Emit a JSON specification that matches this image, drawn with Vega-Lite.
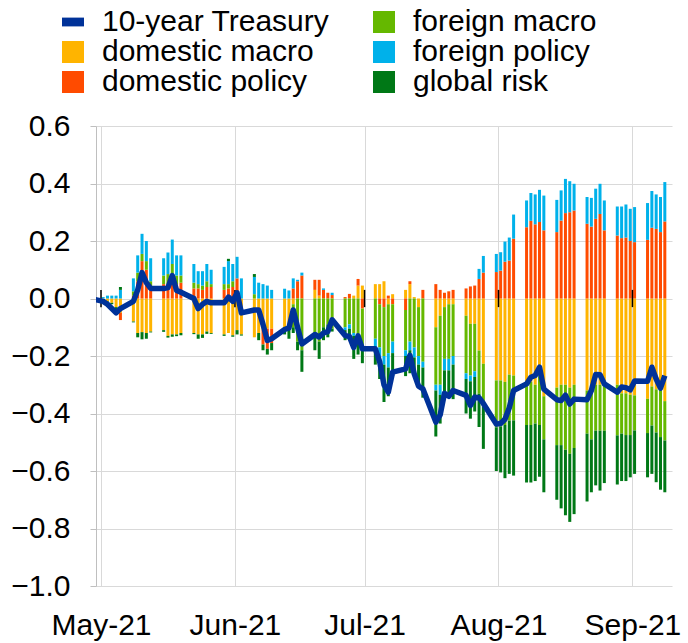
{
  "$schema": "https://vega.github.io/schema/vega-lite/v6.json",
  "width": 576,
  "height": 460,
  "autosize": {"type": "none"},
  "padding": {"left": 96, "top": 126, "right": 16, "bottom": 57},
  "background": "white",
  "config": {
    "font": "Liberation Sans",
    "view": {"stroke": null}
  },
  "datasets": {
    "months": [
      {"month": "2021-05-01"}, {"month": "2021-06-01"}, {"month": "2021-07-01"}, {"month": "2021-08-01"}, {"month": "2021-09-01"}
    ],
    "yields": [
      {"date": "2021-04-30", "domestic macro": 0, "domestic policy": 0, "foreign macro": 0, "foreign policy": 0, "global risk": 0, "10-year Treasury": 0},
      {"date": "2021-05-03", "domestic macro": -0.01, "domestic policy": 0, "foreign macro": 0, "foreign policy": 0.005, "global risk": 0, "10-year Treasury": -0.01},
      {"date": "2021-05-04", "domestic macro": -0.01, "domestic policy": 0, "foreign macro": 0, "foreign policy": 0.01, "global risk": -0.005, "10-year Treasury": -0.02},
      {"date": "2021-05-05", "domestic macro": -0.015, "domestic policy": 0, "foreign macro": 0, "foreign policy": 0.01, "global risk": -0.005, "10-year Treasury": -0.035},
      {"date": "2021-05-06", "domestic macro": -0.03, "domestic policy": 0, "foreign macro": 0, "foreign policy": 0.01, "global risk": -0.008, "10-year Treasury": -0.05},
      {"date": "2021-05-07", "domestic macro": -0.05, "domestic policy": -0.025, "foreign macro": 0, "foreign policy": 0.03, "global risk": 0.01, "10-year Treasury": -0.035},
      {"date": "2021-05-10", "domestic macro": -0.08, "domestic policy": 0.01, "foreign macro": 0.015, "foreign policy": 0.045, "global risk": -0.003, "10-year Treasury": -0.01},
      {"date": "2021-05-11", "domestic macro": -0.12, "domestic policy": 0.06, "foreign macro": 0.03, "foreign policy": 0.06, "global risk": -0.015, "10-year Treasury": 0.03},
      {"date": "2021-05-12", "domestic macro": -0.117, "domestic policy": 0.13, "foreign macro": 0.025, "foreign policy": 0.07, "global risk": -0.025, "10-year Treasury": 0.09},
      {"date": "2021-05-13", "domestic macro": -0.12, "domestic policy": 0.1, "foreign macro": 0.03, "foreign policy": 0.07, "global risk": -0.02, "10-year Treasury": 0.055},
      {"date": "2021-05-14", "domestic macro": -0.115, "domestic policy": 0.04, "foreign macro": 0.02, "foreign policy": 0.08, "global risk": -0.003, "10-year Treasury": 0.035},
      {"date": "2021-05-17", "domestic macro": -0.11, "domestic policy": 0.05, "foreign macro": 0.03, "foreign policy": 0.06, "global risk": -0.006, "10-year Treasury": 0.035},
      {"date": "2021-05-18", "domestic macro": -0.13, "domestic policy": 0.05, "foreign macro": 0.035, "foreign policy": 0.075, "global risk": -0.006, "10-year Treasury": 0.038},
      {"date": "2021-05-19", "domestic macro": -0.125, "domestic policy": 0.08, "foreign macro": 0.04, "foreign policy": 0.085, "global risk": -0.008, "10-year Treasury": 0.08},
      {"date": "2021-05-20", "domestic macro": -0.125, "domestic policy": 0.05, "foreign macro": 0.03, "foreign policy": 0.07, "global risk": -0.006, "10-year Treasury": 0.028},
      {"date": "2021-05-21", "domestic macro": -0.12, "domestic policy": 0.055, "foreign macro": 0.025, "foreign policy": 0.07, "global risk": -0.008, "10-year Treasury": 0.022},
      {"date": "2021-05-24", "domestic macro": -0.12, "domestic policy": 0.035, "foreign macro": 0.02, "foreign policy": 0.065, "global risk": -0.004, "10-year Treasury": 0.0},
      {"date": "2021-05-25", "domestic macro": -0.125, "domestic policy": 0.035, "foreign macro": 0.015, "foreign policy": 0.045, "global risk": -0.015, "10-year Treasury": -0.035},
      {"date": "2021-05-26", "domestic macro": -0.125, "domestic policy": 0.03, "foreign macro": 0.015, "foreign policy": 0.05, "global risk": -0.012, "10-year Treasury": -0.02},
      {"date": "2021-05-27", "domestic macro": -0.115, "domestic policy": 0.04, "foreign macro": 0.02, "foreign policy": 0.06, "global risk": -0.008, "10-year Treasury": -0.01},
      {"date": "2021-05-28", "domestic macro": -0.12, "domestic policy": 0.04, "foreign macro": 0.01, "foreign policy": 0.05, "global risk": -0.003, "10-year Treasury": -0.015},
      {"date": "2021-05-31", "domestic macro": -0.125, "domestic policy": 0.03, "foreign macro": 0.02, "foreign policy": 0.06, "global risk": -0.005, "10-year Treasury": -0.015},
      {"date": "2021-06-01", "domestic macro": -0.12, "domestic policy": 0.035, "foreign macro": 0.015, "foreign policy": 0.08, "global risk": 0.008, "10-year Treasury": 0.005},
      {"date": "2021-06-02", "domestic macro": -0.128, "domestic policy": 0.04, "foreign macro": 0.02, "foreign policy": 0.06, "global risk": -0.005, "10-year Treasury": -0.01},
      {"date": "2021-06-03", "domestic macro": -0.11, "domestic policy": 0.07, "foreign macro": 0, "foreign policy": 0.075, "global risk": -0.015, "10-year Treasury": 0.02},
      {"date": "2021-06-04", "domestic macro": -0.125, "domestic policy": 0, "foreign macro": 0, "foreign policy": 0.07, "global risk": -0.004, "10-year Treasury": -0.05},
      {"date": "2021-06-07", "domestic macro": -0.135, "domestic policy": 0, "foreign macro": 0.015, "foreign policy": 0.06, "global risk": 0.01, "10-year Treasury": -0.04},
      {"date": "2021-06-08", "domestic macro": -0.12, "domestic policy": 0, "foreign macro": 0, "foreign policy": 0.055, "global risk": -0.025, "10-year Treasury": -0.04},
      {"date": "2021-06-09", "domestic macro": -0.11, "domestic policy": -0.05, "foreign macro": 0, "foreign policy": 0.05, "global risk": -0.02, "10-year Treasury": -0.09},
      {"date": "2021-06-10", "domestic macro": -0.105, "domestic policy": -0.07, "foreign macro": 0, "foreign policy": 0.045, "global risk": -0.02, "10-year Treasury": -0.146},
      {"date": "2021-06-11", "domestic macro": -0.105, "domestic policy": -0.05, "foreign macro": 0, "foreign policy": 0.03, "global risk": -0.025, "10-year Treasury": -0.14},
      {"date": "2021-06-14", "domestic macro": -0.1, "domestic policy": 0, "foreign macro": 0, "foreign policy": 0.034, "global risk": -0.025, "10-year Treasury": -0.108},
      {"date": "2021-06-15", "domestic macro": -0.09, "domestic policy": 0, "foreign macro": -0.015, "foreign policy": 0.028, "global risk": -0.035, "10-year Treasury": -0.102},
      {"date": "2021-06-16", "domestic macro": -0.02, "domestic policy": 0.035, "foreign macro": -0.08, "foreign policy": 0.035, "global risk": -0.02, "10-year Treasury": -0.04},
      {"date": "2021-06-17", "domestic macro": 0, "domestic policy": 0.06, "foreign macro": -0.15, "foreign policy": 0.005, "global risk": -0.03, "10-year Treasury": -0.1},
      {"date": "2021-06-18", "domestic macro": 0, "domestic policy": 0.08, "foreign macro": -0.18, "foreign policy": 0.01, "global risk": -0.075, "10-year Treasury": -0.158},
      {"date": "2021-06-21", "domestic macro": 0.03, "domestic policy": 0.035, "foreign macro": -0.12, "foreign policy": 0, "global risk": -0.06, "10-year Treasury": -0.125},
      {"date": "2021-06-22", "domestic macro": 0.01, "domestic policy": 0.055, "foreign macro": -0.15, "foreign policy": 0, "global risk": -0.06, "10-year Treasury": -0.134},
      {"date": "2021-06-23", "domestic macro": 0, "domestic policy": 0.03, "foreign macro": -0.1, "foreign policy": 0.005, "global risk": -0.045, "10-year Treasury": -0.12},
      {"date": "2021-06-24", "domestic macro": 0, "domestic policy": 0.02, "foreign macro": -0.09, "foreign policy": 0, "global risk": -0.045, "10-year Treasury": -0.115},
      {"date": "2021-06-25", "domestic macro": 0, "domestic policy": 0.012, "foreign macro": -0.105, "foreign policy": 0.008, "global risk": -0.01, "10-year Treasury": -0.074},
      {"date": "2021-06-28", "domestic macro": 0, "domestic policy": 0.005, "foreign macro": -0.1, "foreign policy": -0.01, "global risk": -0.035, "10-year Treasury": -0.129},
      {"date": "2021-06-29", "domestic macro": 0, "domestic policy": 0.016, "foreign macro": -0.09, "foreign policy": -0.015, "global risk": -0.04, "10-year Treasury": -0.132},
      {"date": "2021-06-30", "domestic macro": 0.01, "domestic policy": 0, "foreign macro": -0.12, "foreign policy": -0.01, "global risk": -0.08, "10-year Treasury": -0.17},
      {"date": "2021-07-01", "domestic macro": 0.045, "domestic policy": 0.023, "foreign macro": -0.15, "foreign policy": 0, "global risk": -0.045, "10-year Treasury": -0.13},
      {"date": "2021-07-02", "domestic macro": 0.045, "domestic policy": -0.035, "foreign macro": -0.13, "foreign policy": 0, "global risk": -0.06, "10-year Treasury": -0.175},
      {"date": "2021-07-05", "domestic macro": 0.05, "domestic policy": 0, "foreign macro": -0.14, "foreign policy": -0.03, "global risk": -0.06, "10-year Treasury": -0.175},
      {"date": "2021-07-06", "domestic macro": 0.05, "domestic policy": -0.02, "foreign macro": -0.15, "foreign policy": -0.04, "global risk": -0.07, "10-year Treasury": -0.22},
      {"date": "2021-07-07", "domestic macro": 0.06, "domestic policy": -0.03, "foreign macro": -0.17, "foreign policy": -0.03, "global risk": -0.13, "10-year Treasury": -0.3},
      {"date": "2021-07-08", "domestic macro": -0.02, "domestic policy": 0.01, "foreign macro": -0.17, "foreign policy": -0.05, "global risk": -0.1, "10-year Treasury": -0.326},
      {"date": "2021-07-09", "domestic macro": 0.015, "domestic policy": -0.02, "foreign macro": -0.13, "foreign policy": -0.04, "global risk": -0.08, "10-year Treasury": -0.256},
      {"date": "2021-07-12", "domestic macro": 0.03, "domestic policy": -0.04, "foreign macro": -0.14, "foreign policy": -0.02, "global risk": -0.07, "10-year Treasury": -0.245},
      {"date": "2021-07-13", "domestic macro": 0.05, "domestic policy": 0.01, "foreign macro": -0.15, "foreign policy": -0.03, "global risk": -0.08, "10-year Treasury": -0.198},
      {"date": "2021-07-14", "domestic macro": 0.005, "domestic policy": 0, "foreign macro": -0.17, "foreign policy": -0.035, "global risk": -0.06, "10-year Treasury": -0.262},
      {"date": "2021-07-15", "domestic macro": -0.03, "domestic policy": 0, "foreign macro": -0.17, "foreign policy": -0.03, "global risk": -0.07, "10-year Treasury": -0.305},
      {"date": "2021-07-16", "domestic macro": 0, "domestic policy": 0.03, "foreign macro": -0.22, "foreign policy": -0.02, "global risk": -0.105, "10-year Treasury": -0.314},
      {"date": "2021-07-19", "domestic macro": -0.1, "domestic policy": 0.05, "foreign macro": -0.2, "foreign policy": -0.02, "global risk": -0.16, "10-year Treasury": -0.43},
      {"date": "2021-07-20", "domestic macro": -0.06, "domestic policy": 0.03, "foreign macro": -0.24, "foreign policy": -0.035, "global risk": -0.1, "10-year Treasury": -0.405},
      {"date": "2021-07-21", "domestic macro": -0.03, "domestic policy": 0.02, "foreign macro": -0.18, "foreign policy": -0.04, "global risk": -0.1, "10-year Treasury": -0.33},
      {"date": "2021-07-22", "domestic macro": -0.02, "domestic policy": 0.025, "foreign macro": -0.19, "foreign policy": -0.04, "global risk": -0.09, "10-year Treasury": -0.34},
      {"date": "2021-07-23", "domestic macro": -0.02, "domestic policy": 0.03, "foreign macro": -0.18, "foreign policy": -0.03, "global risk": -0.12, "10-year Treasury": -0.32},
      {"date": "2021-07-26", "domestic macro": -0.06, "domestic policy": 0.035, "foreign macro": -0.2, "foreign policy": -0.02, "global risk": -0.12, "10-year Treasury": -0.337},
      {"date": "2021-07-27", "domestic macro": -0.088, "domestic policy": 0.042, "foreign macro": -0.18, "foreign policy": -0.02, "global risk": -0.13, "10-year Treasury": -0.372},
      {"date": "2021-07-28", "domestic macro": -0.088, "domestic policy": 0.045, "foreign macro": -0.165, "foreign policy": -0.02, "global risk": -0.12, "10-year Treasury": -0.343},
      {"date": "2021-07-29", "domestic macro": -0.181, "domestic policy": 0.068, "foreign macro": -0.15, "foreign policy": 0.035, "global risk": -0.116, "10-year Treasury": -0.345},
      {"date": "2021-07-30", "domestic macro": -0.227, "domestic policy": 0.09, "foreign macro": -0.15, "foreign policy": 0.058, "global risk": -0.146, "10-year Treasury": -0.365},
      {"date": "2021-08-02", "domestic macro": -0.285, "domestic policy": 0.092, "foreign macro": -0.163, "foreign policy": 0.063, "global risk": -0.152, "10-year Treasury": -0.437},
      {"date": "2021-08-03", "domestic macro": -0.285, "domestic policy": 0.097, "foreign macro": -0.16, "foreign policy": 0.064, "global risk": -0.16, "10-year Treasury": -0.435},
      {"date": "2021-08-04", "domestic macro": -0.29, "domestic policy": 0.128, "foreign macro": -0.15, "foreign policy": 0.07, "global risk": -0.185, "10-year Treasury": -0.42},
      {"date": "2021-08-05", "domestic macro": -0.265, "domestic policy": 0.132, "foreign macro": -0.16, "foreign policy": 0.08, "global risk": -0.185, "10-year Treasury": -0.38},
      {"date": "2021-08-06", "domestic macro": -0.268, "domestic policy": 0.208, "foreign macro": -0.156, "foreign policy": 0.084, "global risk": -0.192, "10-year Treasury": -0.32},
      {"date": "2021-08-09", "domestic macro": -0.29, "domestic policy": 0.248, "foreign macro": -0.15, "foreign policy": 0.093, "global risk": -0.2, "10-year Treasury": -0.297},
      {"date": "2021-08-10", "domestic macro": -0.29, "domestic policy": 0.27, "foreign macro": -0.15, "foreign policy": 0.097, "global risk": -0.2, "10-year Treasury": -0.274},
      {"date": "2021-08-11", "domestic macro": -0.3, "domestic policy": 0.258, "foreign macro": -0.135, "foreign policy": 0.104, "global risk": -0.2, "10-year Treasury": -0.268},
      {"date": "2021-08-12", "domestic macro": -0.27, "domestic policy": 0.266, "foreign macro": -0.17, "foreign policy": 0.112, "global risk": -0.18, "10-year Treasury": -0.239},
      {"date": "2021-08-13", "domestic macro": -0.34, "domestic policy": 0.237, "foreign macro": -0.15, "foreign policy": 0.121, "global risk": -0.184, "10-year Treasury": -0.315},
      {"date": "2021-08-16", "domestic macro": -0.31, "domestic policy": 0.231, "foreign macro": -0.2, "foreign policy": 0.112, "global risk": -0.19, "10-year Treasury": -0.352},
      {"date": "2021-08-17", "domestic macro": -0.3, "domestic policy": 0.271, "foreign macro": -0.21, "foreign policy": 0.105, "global risk": -0.22, "10-year Treasury": -0.355},
      {"date": "2021-08-18", "domestic macro": -0.3, "domestic policy": 0.297, "foreign macro": -0.226, "foreign policy": 0.119, "global risk": -0.228, "10-year Treasury": -0.336},
      {"date": "2021-08-19", "domestic macro": -0.31, "domestic policy": 0.3, "foreign macro": -0.23, "foreign policy": 0.108, "global risk": -0.237, "10-year Treasury": -0.367},
      {"date": "2021-08-20", "domestic macro": -0.3, "domestic policy": 0.306, "foreign macro": -0.22, "foreign policy": 0.093, "global risk": -0.23, "10-year Treasury": -0.35},
      {"date": "2021-08-23", "domestic macro": -0.32, "domestic policy": 0.26, "foreign macro": -0.15, "foreign policy": 0.093, "global risk": -0.236, "10-year Treasury": -0.352},
      {"date": "2021-08-24", "domestic macro": -0.3, "domestic policy": 0.25, "foreign macro": -0.19, "foreign policy": 0.1, "global risk": -0.184, "10-year Treasury": -0.32},
      {"date": "2021-08-25", "domestic macro": -0.3, "domestic policy": 0.277, "foreign macro": -0.16, "foreign policy": 0.105, "global risk": -0.19, "10-year Treasury": -0.264},
      {"date": "2021-08-26", "domestic macro": -0.3, "domestic policy": 0.294, "foreign macro": -0.16, "foreign policy": 0.105, "global risk": -0.208, "10-year Treasury": -0.265},
      {"date": "2021-08-27", "domestic macro": -0.3, "domestic policy": 0.237, "foreign macro": -0.16, "foreign policy": 0.104, "global risk": -0.182, "10-year Treasury": -0.297},
      {"date": "2021-08-30", "domestic macro": -0.3, "domestic policy": 0.219, "foreign macro": -0.176, "foreign policy": 0.101, "global risk": -0.171, "10-year Treasury": -0.326},
      {"date": "2021-08-31", "domestic macro": -0.33, "domestic policy": 0.21, "foreign macro": -0.14, "foreign policy": 0.11, "global risk": -0.165, "10-year Treasury": -0.308},
      {"date": "2021-09-01", "domestic macro": -0.33, "domestic policy": 0.212, "foreign macro": -0.145, "foreign policy": 0.115, "global risk": -0.16, "10-year Treasury": -0.31},
      {"date": "2021-09-02", "domestic macro": -0.335, "domestic policy": 0.2, "foreign macro": -0.14, "foreign policy": 0.112, "global risk": -0.147, "10-year Treasury": -0.318},
      {"date": "2021-09-03", "domestic macro": -0.337, "domestic policy": 0.196, "foreign macro": -0.122, "foreign policy": 0.122, "global risk": -0.151, "10-year Treasury": -0.287},
      {"date": "2021-09-06", "domestic macro": -0.349, "domestic policy": 0.204, "foreign macro": -0.119, "foreign policy": 0.128, "global risk": -0.154, "10-year Treasury": -0.288},
      {"date": "2021-09-07", "domestic macro": -0.306, "domestic policy": 0.246, "foreign macro": -0.136, "foreign policy": 0.128, "global risk": -0.168, "10-year Treasury": -0.239},
      {"date": "2021-09-08", "domestic macro": -0.316, "domestic policy": 0.242, "foreign macro": -0.15, "foreign policy": 0.12, "global risk": -0.173, "10-year Treasury": -0.28},
      {"date": "2021-09-09", "domestic macro": -0.31, "domestic policy": 0.231, "foreign macro": -0.172, "foreign policy": 0.122, "global risk": -0.183, "10-year Treasury": -0.312},
      {"date": "2021-09-10", "domestic macro": -0.357, "domestic policy": 0.268, "foreign macro": -0.137, "foreign policy": 0.137, "global risk": -0.18, "10-year Treasury": -0.268}
    ]
  },
  "encoding": {
    "x": {
      "field": "date",
      "type": "temporal",
      "scale": {"type": "utc", "domain": ["2021-05-01", "2021-09-09"]},
      "axis": {
        "title": null,
        "format": "%b-%y",
        "tickCount": {"interval": "month", "step": 1},
        "labelFontSize": 30,
        "labelColor": "#000000",
        "labelFlush": false,
        "labelOverlap": false,
        "labelPadding": 24,
        "ticks": false,
        "domain": false,
        "grid": true,
        "gridColor": "#d9d9d9",
        "gridWidth": 1
      }
    }
  },
  "layer": [
    {
      "data": {"name": "yields"},
      "transform": [
        {"fold": ["domestic macro", "domestic policy", "foreign macro", "foreign policy", "global risk"], "as": ["series", "value"]}
      ],
      "mark": {"type": "bar", "width": 3, "xOffset": -6.5},
      "encoding": {
        "y": {
          "field": "value",
          "type": "quantitative",
          "stack": "zero",
          "scale": {"domain": [-1, 0.6], "nice": false, "zero": false},
          "axis": {
            "title": null,
            "values": [-1, -0.8, -0.6, -0.4, -0.2, 0, 0.2, 0.4, 0.6],
            "format": ".1f",
            "labelFontSize": 30,
            "labelColor": "#000000",
            "labelPadding": 20,
            "tickSize": 6,
            "tickColor": "#bfbfbf",
            "domainColor": "#bfbfbf",
            "gridColor": "#d9d9d9",
            "gridWidth": 1
          }
        },
        "color": {
          "field": "series",
          "type": "nominal",
          "scale": {
            "domain": ["10-year Treasury", "domestic macro", "domestic policy", "foreign macro", "foreign policy", "global risk"],
            "range": ["#003299", "#FFB400", "#FF4B00", "#65B800", "#00B1EA", "#007816"]
          },
          "legend": {
            "title": null,
            "orient": "none",
            "legendX": -38,
            "legendY": -119,
            "columns": 2,
            "columnPadding": 39,
            "rowPadding": 0,
            "labelFontSize": 30,
            "labelLimit": 500,
            "labelColor": "#000000",
            "labelOffset": 14,
            "symbolSize": 484,
            "symbolStrokeWidth": 0,
            "symbolOpacity": 1,
            "encode": {
              "symbols": {
                "update": {
                  "shape": {"signal": "datum.value === '10-year Treasury' ? 'M-1,-0.4H1V0.4H-1Z' : 'square'"},
                  "fill": {"scale": "color", "field": "value"},
                  "strokeWidth": {"value": 0}
                }
              }
            }
          }
        },
        "order": {"field": "series", "type": "ordinal", "sort": "ascending"}
      }
    },
    {
      "mark": {"type": "rule", "color": "#000000", "strokeWidth": 1.5},
      "encoding": {"y": {"datum": 0}}
    },
    {
      "data": {"name": "months"},
      "mark": {"type": "rule", "color": "#000000", "strokeWidth": 1.5},
      "encoding": {
        "x": {"field": "month", "type": "temporal"},
        "y": {"datum": -0.03},
        "y2": {"datum": 0.03}
      }
    },
    {
      "data": {"name": "yields"},
      "mark": {"type": "line", "strokeWidth": 5.5, "strokeJoin": "round", "xOffset": -6.5, "clip": true},
      "encoding": {
        "y": {"field": "10-year Treasury", "type": "quantitative"},
        "color": {"datum": "10-year Treasury"}
      }
    }
  ]
}
